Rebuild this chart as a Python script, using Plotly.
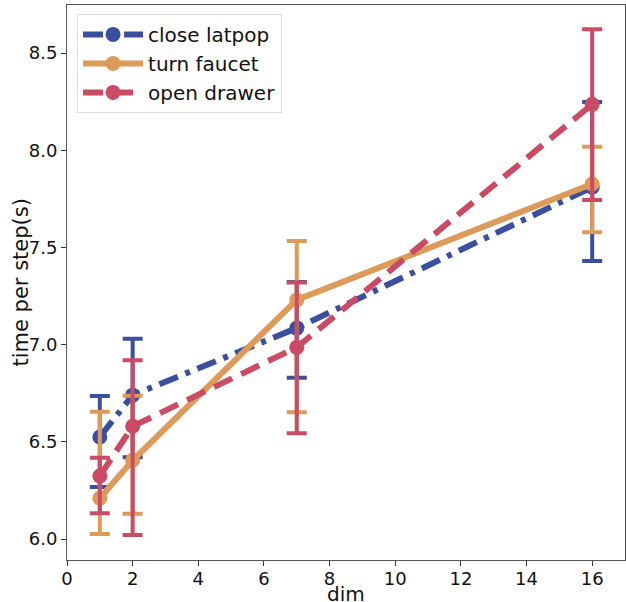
import plotly.graph_objects as go

dims = [1, 2, 7, 16]
series_names = ["close latpop", "turn faucet", "open drawer"]
close_latpop = [6.525, 6.74, 7.085, 7.81]
close_latpop_hi = [6.735, 7.03, 7.322, 8.248]
close_latpop_lo = [6.267, 6.42, 6.83, 7.43]
turn_faucet = [6.21, 6.405, 7.23, 7.826]
turn_faucet_hi = [6.655, 6.737, 7.533, 8.018]
turn_faucet_lo = [6.026, 6.13, 6.652, 7.578]
open_drawer = [6.324, 6.58, 6.986, 8.236]
open_drawer_hi = [6.418, 6.92, 7.32, 8.622]
open_drawer_lo = [6.132, 6.02, 6.544, 7.744]

colors = ["#3A4FA0", "#DE9A58", "#CB4A64"]
dashes = ["20px,8px,5px,8px", "solid", "20px,10px"]
values = [close_latpop, turn_faucet, open_drawer]
his = [close_latpop_hi, turn_faucet_hi, open_drawer_hi]
los = [close_latpop_lo, turn_faucet_lo, open_drawer_lo]

fig = go.Figure()
for name, y, hi, lo, c, d in zip(series_names, values, his, los, colors, dashes):
    fig.add_trace(go.Scatter(
        x=dims, y=y, name=name, mode="lines+markers",
        line=dict(color=c, width=6, dash=d),
        marker=dict(color=c, size=15),
        error_y=dict(type="data", symmetric=False,
                     array=[h - v for h, v in zip(hi, y)],
                     arrayminus=[v - l for l, v in zip(lo, y)],
                     color=c, thickness=4, width=10),
    ))

font_fam = "DejaVu Sans"
axis_common = dict(showgrid=False, zeroline=False, showline=True, linecolor="#555555",
                   linewidth=1, mirror=True, ticks="outside", ticklen=5, tickcolor="#333333",
                   automargin=False,
                   tickfont=dict(family=font_fam, size=18, color="#111111"))
fig.update_xaxes(range=[0, 17], tickvals=list(range(0, 17, 2)), ticklabelstandoff=-3, **axis_common)
fig.update_yaxes(range=[5.892, 8.747], tickvals=[6.0, 6.5, 7.0, 7.5, 8.0, 8.5], tickformat=".1f",
                 **axis_common)
fig.add_annotation(text="dim", xref="paper", yref="paper", x=0.5, y=0,
                   xanchor="center", yanchor="top", yshift=-20, showarrow=False,
                   font=dict(family=font_fam, size=20, color="#111111"))
fig.add_annotation(text="time per step(s)", xref="paper", yref="paper", x=0, y=0.5,
                   xanchor="center", yanchor="middle", xshift=-47, textangle=-90, showarrow=False,
                   font=dict(family=font_fam, size=21, color="#111111"))
fig.update_layout(
    width=626, height=602,
    margin=dict(l=67, r=1, t=5, b=42),
    plot_bgcolor="white", paper_bgcolor="white",
    legend=dict(x=0.018, y=0.984, xanchor="left", yanchor="top",
                bgcolor="rgba(255,255,255,0.8)", bordercolor="#dddddd", borderwidth=1,
                font=dict(family=font_fam, size=20, color="#111111"), itemwidth=60),
    showlegend=True,
)
fig.write_html("out.html", config={"displayModeBar": False})

with open("out.html", "r", encoding="utf-8") as f:
    html = f.read()
html = html.replace("<head>", "<head><style>html,body{margin:0;padding:0;overflow:hidden;}</style>", 1)
with open("out.html", "w", encoding="utf-8") as f:
    f.write(html)
